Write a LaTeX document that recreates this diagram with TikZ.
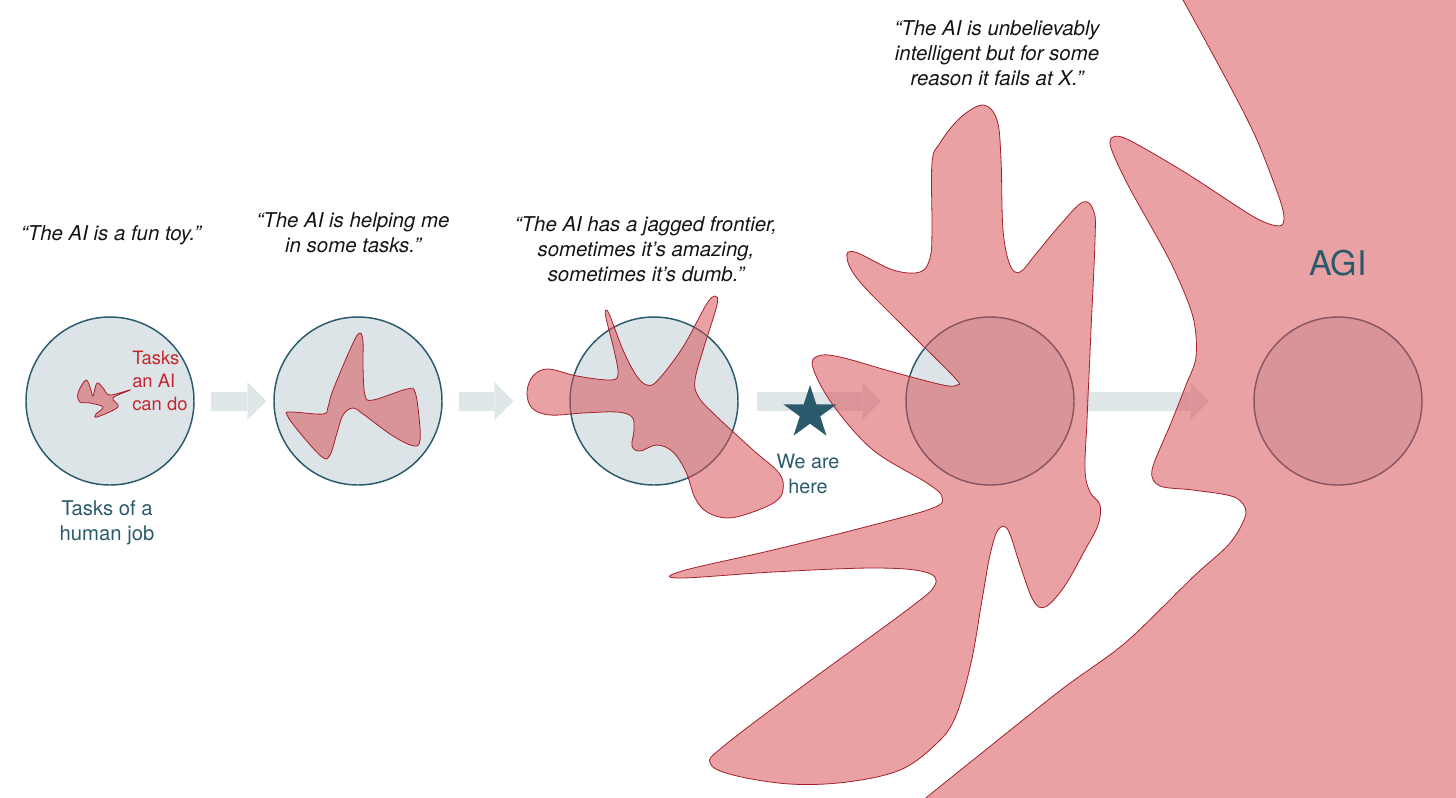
\documentclass[tikz,border=0pt]{standalone}
\usepackage{fontspec}
\setmainfont{TeX Gyre Heros}
\usetikzlibrary{arrows.meta,shapes.geometric}
\definecolor{jobteal}{HTML}{2A5A6B}
\definecolor{jobfill}{HTML}{DCE4E8}
\definecolor{aipink}{HTML}{D85459}
\definecolor{aiedge}{HTML}{A3202C}
\definecolor{aired}{HTML}{C4282E}
\definecolor{flowgrey}{HTML}{DFE6E8}
\newcommand{\sayfont}{\fontsize{15.3}{18.75}\selectfont\itshape}

\begin{document}
\begin{tikzpicture}[x=0.75pt,y=-0.75pt,
  job/.style={circle,draw=jobteal,line width=1.1pt,fill=jobfill,minimum size=126pt,inner sep=0pt},
  flow/.style={draw=flowgrey,line width=14.25pt,-{Triangle[length=14.25pt,width=28.5pt,line width=0pt]}},
  ai/.style={fill=aipink,fill opacity=0.55,draw=aiedge,line width=0.6pt},
  saying/.style={align=center,font=\sayfont,text=black!92},
  tag/.style={align=center,text=jobteal,inner sep=0pt}]
\useasboundingbox (0,0) rectangle (1456,797);
\clip (0,0) rectangle (1456,797);

% the five jobs
\node[job] (c1) at (110,401) {};
\node[job] (c2) at (358,401) {};
\node[job] (c3) at (654,401) {};
\node[job] (c4) at (990,401) {};
\node[job] (c5) at (1338,401) {};

\draw[flow,shorten <=12pt,shorten >=5.25pt] (c1) -- (c2);
\draw[flow,shorten <=12pt,shorten >=42pt] (c2) -- (c3);
\draw[flow,shorten <=13.5pt,shorten >=18pt] (c3) -- (c4);
\draw[flow,shorten <=8.25pt,shorten >=33pt] (c4) -- (c5);

% what the AI can do
\path[ai] plot[smooth cycle,tension=0.6] coordinates {
  (78,393) (86,380) (91,390) (93,396) (97,383) (103,388) (110,395) (130,390)
  (113,398) (118,407) (97,417) (96,414) (103,407) (90,403) (80,402)};
\path[ai] plot[smooth cycle,tension=0.6] coordinates {
  (360,333) (363,342) (363,367) (365,395) (373,400) (407,389) (415,392) (419,417)
  (420,440) (414,446) (393,436) (363,414) (353,408) (343,415) (337,433) (330,455)
  (322,457) (300,433) (287,415) (291,412) (323,414) (328,407) (333,390) (353,343)};
\path[ai] plot[smooth cycle,tension=0.6] coordinates {
  (527,392) (533,376) (548,369) (577,376) (610,380) (618,374) (614,350) (606,318)
  (606,310) (610,316) (623,350) (636,375) (647,385) (658,380) (683,347) (706,305)
  (715,296) (717,305) (704,347) (695,380) (698,396) (713,413) (753,450) (779,473)
  (783,490) (775,502) (750,513) (727,518) (707,512) (695,498) (686,472) (673,452)
  (657,445) (640,451) (632,446) (634,430) (632,417) (617,412) (583,413) (550,415)
  (532,408)};
\path[ai] plot[smooth cycle,tension=0.6] coordinates {
  (983,105) (997,120) (1001,160) (1003,230) (1010,265) (1020,272) (1035,255)
  (1060,225) (1083,202) (1094,212) (1095,240) (1091,330) (1087,420) (1085,470)
  (1090,492) (1100,505) (1098,525) (1085,550) (1064,587) (1045,607) (1033,600)
  (1020,565) (1008,530) (998,530) (990,555) (982,600) (971,663) (955,718)
  (935,745) (900,770) (847,782) (790,784) (733,775) (710,763) (725,745)
  (807,683) (907,610) (935,585) (925,572) (873,568) (773,572) (680,578)
  (682,571) (773,550) (873,525) (933,508) (942,497) (927,483) (873,450)
  (833,405) (813,368) (818,356) (840,357) (893,372) (943,385) (957,385)
  (955,378) (910,333) (860,282) (847,258) (855,252) (893,270) (920,272)
  (930,258) (932,230) (932,163) (940,143) (960,118)};
\path[ai] plot[smooth,tension=0.5] coordinates {
  (1170,-20) (1183,0) (1232,90) (1257,140) (1279,197) (1284,218) (1279,226)
  (1254,217) (1186,173) (1129,140) (1113,137) (1111,148) (1129,187) (1171,263)
  (1193,317) (1196,357) (1186,385) (1171,423) (1152,470) (1160,486) (1193,490)
  (1234,497) (1246,513) (1230,543) (1193,577) (1125,643) (1057,693) (927,797)
  (905,815)} -- (1470,815) -- (1470,-20) -- cycle;

\node[star,star points=5,star point ratio=2.618,fill=jobteal,minimum size=42pt,inner sep=0pt] (here) at (810,413) {};

% labels
\node[saying] (q1) at (111,235) {“The AI is a fun toy.”};
\node[saying] (q2) at (353,233) {“The AI is helping me\\in some tasks.”};
\node[saying] (q3) at (646,249) {“The AI has a jagged frontier,\\sometimes it’s amazing,\\sometimes it’s dumb.”};
\node[saying] (q4) at (997,53) {“The AI is unbelievably\\intelligent but for some\\reason it fails at X.”};
\node[tag,align=left,anchor=west,text=aired,font=\fontsize{13.8}{17}\selectfont] (cando) at (132,381) {Tasks\\an AI\\can do};
\node[tag,font=\fontsize{15.2}{18.75}\selectfont] (human) at (107,523) {Tasks of a\\human job};
\node[tag,font=\fontsize{14.8}{18.75}\selectfont] (weare) at (808,474) {We are\\here};
\node[tag,font=\fontsize{25.5}{30}\selectfont] (agi) at (1338,263) {AGI};
\end{tikzpicture}
\end{document}
